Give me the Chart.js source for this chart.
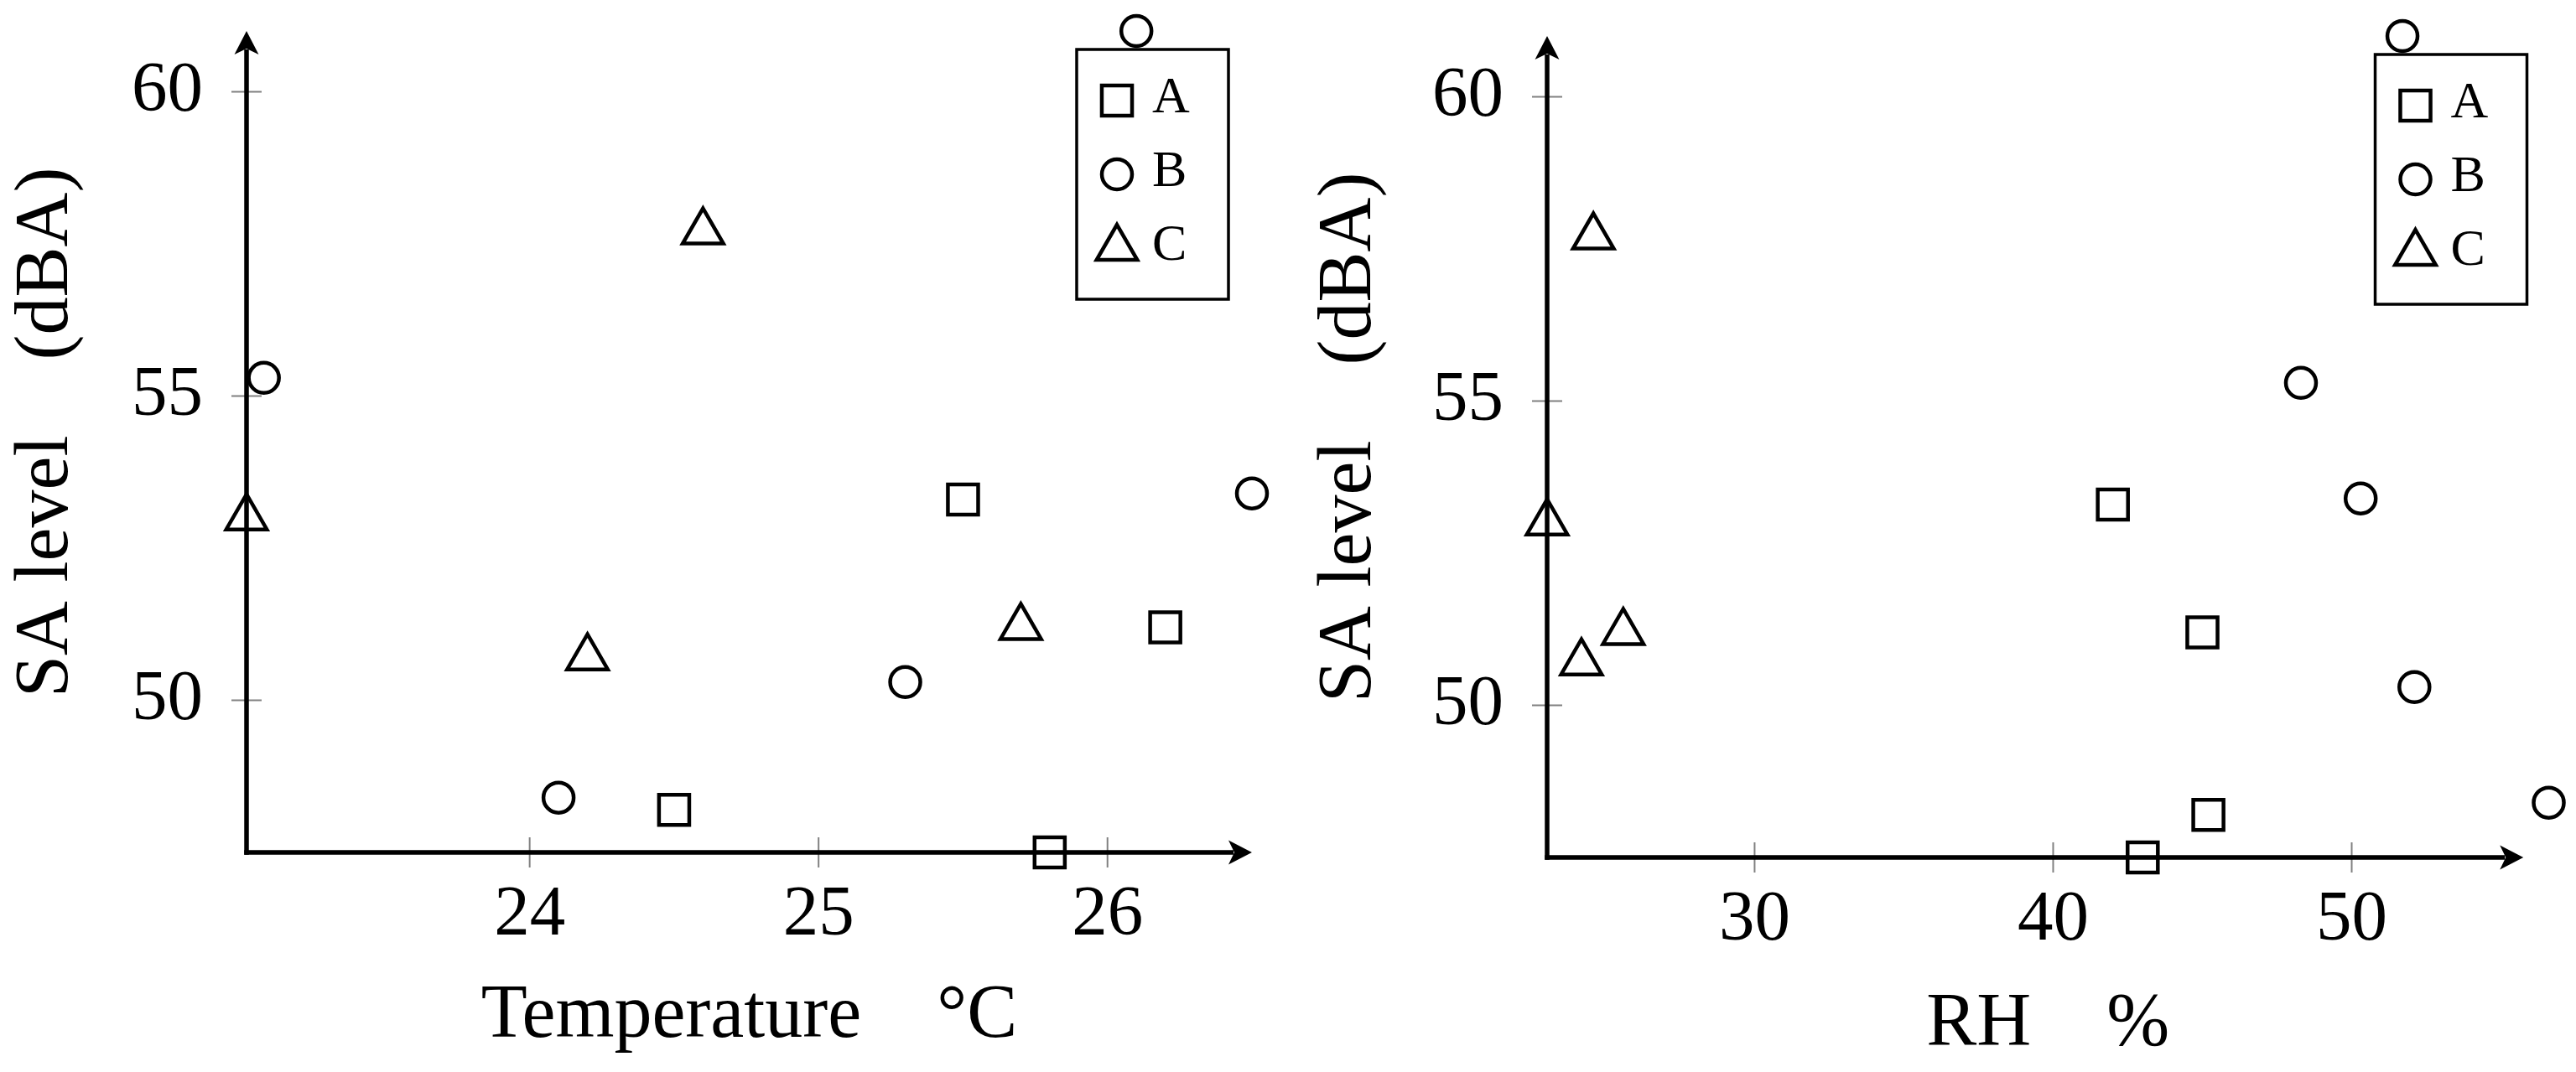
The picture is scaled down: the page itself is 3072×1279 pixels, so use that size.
<!DOCTYPE html>
<html>
<head>
<meta charset="utf-8">
<script src="https://cdn.jsdelivr.net/npm/chart.js@4.4.1/dist/chart.umd.min.js"></script>
<style>
  html, body { margin: 0; padding: 0; background: #fff; }
  .panel { position: absolute; top: 0; width: 1536px; height: 1279px; }
  #panel-temp { left: 0; }
  #panel-rh { left: 1536px; }
</style>
</head>
<body>
<div class="panel" id="panel-temp"><canvas id="chart-temp"></canvas></div>
<div class="panel" id="panel-rh"><canvas id="chart-rh"></canvas></div>
<script>
// series names (legend)
const seriesNames = ['A', 'B', 'C'];

// SA level vs temperature, [°C, dBA]
const tempA = [[25.5, 53.3], [26.2, 51.2], [24.5, 48.2], [25.8, 47.5]];
const tempB = [[26.1, 61.0], [23.08, 55.3], [26.5, 53.4], [25.3, 50.3], [24.1, 48.4]];
const tempC = [[24.6, 57.7], [23.02, 53.0], [24.2, 50.7], [25.7, 51.2]];

// SA level vs relative humidity, [%, dBA]
const rhA = [[42.0, 53.3], [45.0, 51.2], [45.2, 48.2], [43.0, 47.5]];
const rhB = [[51.7, 61.0], [48.3, 55.3], [50.3, 53.4], [52.1, 50.3], [56.6, 48.4]];
const rhC = [[24.6, 57.7], [23.05, 53.0], [24.2, 50.7], [25.6, 51.2]];

// tick labels
const levelTicks = [50, 55, 60];
const tempTicks = [24, 25, 26];
const rhTicks = [30, 40, 50];

const serif = '"Liberation Serif", "Times New Roman", serif';
const markerStyles = [
  { pointStyle: 'rect', pointRadius: 25.5 },
  { pointStyle: 'circle', pointRadius: 18 },
  { pointStyle: 'triangle', pointRadius: 28 },
];

// ticks, axis lines and arrow heads, pgfplots "axis lines = left" look
const axisPlugin = {
  id: 'arrowAxes',
  beforeDatasetsDraw(chart, args, opts) {
    const { ctx, chartArea: a, scales: { x, y } } = chart;
    const xEnd = opts.xEnd != null ? x.getPixelForValue(opts.xEnd) : a.right;
    const line = (x1, y1, x2, y2) => { ctx.beginPath(); ctx.moveTo(x1, y1); ctx.lineTo(x2, y2); ctx.stroke(); };
    const arrow = (tx, ty, dx, dy) => {
      const L = 28, W = 14.5, N = 21;
      const px = -dy, py = dx;
      ctx.beginPath();
      ctx.moveTo(tx, ty);
      ctx.lineTo(tx - dx * L + px * W, ty - dy * L + py * W);
      ctx.lineTo(tx - dx * N, ty - dy * N);
      ctx.lineTo(tx - dx * L - px * W, ty - dy * L - py * W);
      ctx.closePath();
      ctx.fill();
    };
    ctx.save();
    ctx.strokeStyle = '#808080';
    ctx.lineWidth = 2;
    x.ticks.forEach(t => { const p = x.getPixelForValue(t.value); line(p, a.bottom - 18, p, a.bottom + 18); });
    y.ticks.forEach(t => { const p = y.getPixelForValue(t.value); line(a.left - 18, p, a.left + 18, p); });
    ctx.strokeStyle = '#000';
    ctx.fillStyle = '#000';
    ctx.lineWidth = 5.5;
    line(a.left - 2.75, a.bottom, xEnd - 22, a.bottom);
    line(a.left, a.bottom + 2.75, a.left, a.top + 22);
    arrow(xEnd, a.bottom, 1, 0);
    arrow(a.left, a.top, 0, -1);
    ctx.restore();
  }
};

// boxed legend in the top right corner
const legendPlugin = {
  id: 'boxLegend',
  afterDraw(chart, args, opts) {
    const { ctx, chartArea: a } = chart;
    const w = 181, h = 298;
    const bx = a.right - opts.inset - w, by = a.top + 22;
    ctx.save();
    ctx.fillStyle = '#fff';
    ctx.fillRect(bx, by, w, h);
    ctx.strokeStyle = '#000';
    ctx.lineWidth = 3.5;
    ctx.strokeRect(bx, by, w, h);
    chart.data.datasets.forEach((ds, i) => {
      const my = by + 61 + i * 88;
      ctx.strokeStyle = '#000';
      ctx.fillStyle = 'rgba(0,0,0,0)';
      ctx.lineWidth = ds.borderWidth;
      Chart.helpers.drawPoint(ctx, {
        pointStyle: ds.pointStyle, radius: ds.pointRadius, borderWidth: ds.borderWidth, rotation: 0
      }, bx + 48, my);
      ctx.fillStyle = '#000';
      ctx.font = '62px ' + serif;
      ctx.textBaseline = 'alphabetic';
      ctx.textAlign = 'left';
      ctx.fillText(ds.label, bx + 90, my + 14);
    });
    ctx.restore();
  }
};

function makeChart(id, series, xTicks, cfg) {
  const tickFont = { family: serif, size: 85 };
  const titleFont = { family: serif, size: 90, lineHeight: 1.1 };
  new Chart(document.getElementById(id), {
    type: 'scatter',
    data: {
      datasets: series.map((pts, i) => ({
        label: seriesNames[i],
        data: pts.map(p => ({ x: p[0], y: p[1] })),
        pointStyle: markerStyles[i].pointStyle,
        pointRadius: markerStyles[i].pointRadius,
        borderColor: '#000',
        backgroundColor: 'rgba(0,0,0,0)',
        borderWidth: 4.5,
        clip: false,
      }))
    },
    options: {
      responsive: true,
      maintainAspectRatio: false,
      animation: false,
      events: [],
      layout: { padding: { left: cfg.padLeft, top: cfg.padTop, right: cfg.padRight, bottom: 0 } },
      plugins: {
        legend: { display: false },
        tooltip: { enabled: false },
        boxLegend: { inset: cfg.legendInset },
        arrowAxes: { xEnd: cfg.xEnd },
      },
      scales: {
        x: {
          type: 'linear', min: cfg.xMin, max: cfg.xMax,
          border: { display: false },
          grid: { display: false, drawTicks: false },
          ticks: { font: tickFont, color: '#000', padding: 25 },
          title: { display: true, text: cfg.xTitle, font: titleFont, color: '#000', padding: { top: 0, bottom: cfg.xTitlePad } },
          afterBuildTicks: s => { s.ticks = xTicks.map(v => ({ value: v })); },
          afterFit: s => { s.height = cfg.xHeight; s.paddingLeft = 0; s.paddingRight = 0; },
        },
        y: {
          type: 'linear', min: 47.5, max: 61.0,
          border: { display: false },
          grid: { display: false, drawTicks: false },
          ticks: { font: tickFont, color: '#000', padding: 52 },
          title: { display: true, text: ' SA level\u2003(dBA)', font: titleFont, color: '#000', padding: { top: cfg.yTitlePad, bottom: 0 } },
          afterBuildTicks: s => { s.ticks = levelTicks.map(v => ({ value: v })); },
          afterFit: s => { s.width = 294; s.paddingTop = 0; s.paddingBottom = 0; },
        }
      }
    },
    plugins: [axisPlugin, legendPlugin]
  });
}

makeChart('chart-temp', [tempA, tempB, tempC], tempTicks, {
  xMin: 23.02, xMax: 26.5, xEnd: null, xTitle: 'Temperature\u2003\u00b0C',
  padLeft: 0, padTop: 37, padRight: 43, xHeight: 262, xTitlePad: 16, yTitlePad: 7, legendInset: 28
});
makeChart('chart-rh', [rhA, rhB, rhC], rhTicks, {
  xMin: 23.05, xMax: 56.6, xEnd: 55.75, xTitle: 'RH\u2003%',
  padLeft: 15, padTop: 43, padRight: 30, xHeight: 256, xTitlePad: 6, yTitlePad: 10, legendInset: 26
});
</script>
</body>
</html>
